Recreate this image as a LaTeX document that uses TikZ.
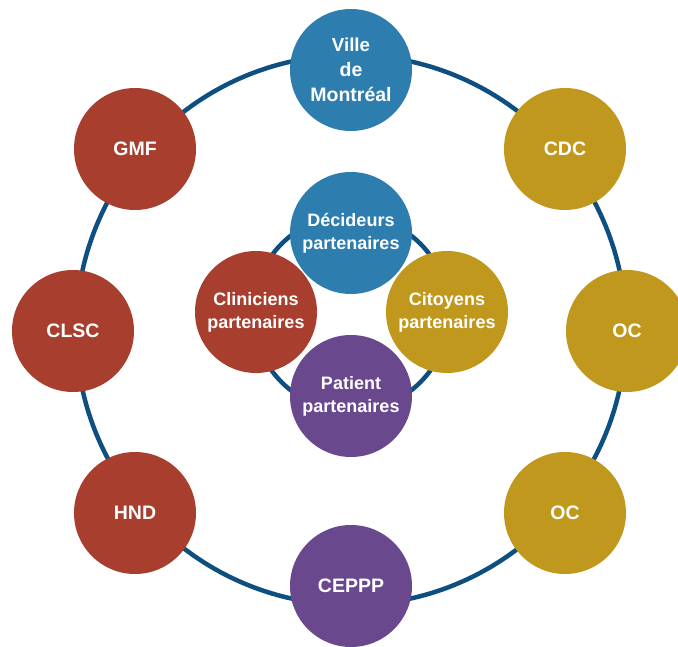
\documentclass[tikz,border=0pt]{standalone}
\usepackage{fontspec}
\setmainfont{Liberation Sans}
\usepackage{tikz}
\definecolor{ringblue}{RGB}{13,79,128}
\definecolor{cityblue}{RGB}{46,125,175}
\definecolor{clinred}{RGB}{168,62,46}
\definecolor{commgold}{RGB}{193,152,30}
\definecolor{patpurple}{RGB}{106,72,142}
\tikzset{
  partner/.style  = {circle, minimum size=122pt, inner sep=0pt, text=white,
                     align=center, font=\bfseries\fontsize{19.5}{24.7}\selectfont},
  inner/.style    = {partner, font=\bfseries\fontsize{18}{22.7}\selectfont},
  ring/.style     = {draw=ringblue, line width=4.5pt}
}

\begin{document}
\begin{tikzpicture}[x=1pt,y=1pt]
    \useasboundingbox (0,0) rectangle (678,646);

    % outer ring of organisations
    \coordinate (outerc) at (351,316);
    \draw[ring] (outerc) circle[radius=275pt];

    \node[partner, fill=cityblue]  (ville) at (351,576)
      {\fontsize{18.7}{24.7}\selectfont Ville\\de\\Montréal};
    \node[partner, fill=clinred]   (gmf)   at (135,497) {GMF};
    \node[partner, fill=commgold]  (cdc)   at (565,497) {CDC};
    \node[partner, fill=clinred]   (clsc)  at (73,315)  {CLSC};
    \node[partner, fill=commgold]  (oca)   at (627,315) {OC};
    \node[partner, fill=clinred]   (hnd)   at (135,133) {HND};
    \node[partner, fill=commgold]  (ocb)   at (565,133) {OC};
    \node[partner, fill=patpurple] (ceppp) at (351,60)  {CEPPP};

    % inner ring of partners
    \coordinate (innerc) at (351,333);
    \draw[ring] (innerc) circle[radius=98pt];

    \node[inner, fill=clinred]   (clin) at (256,334) {Cliniciens\\partenaires};
    \node[inner, fill=cityblue]  (deci) at (351,413) {Décideurs\\partenaires};
    \node[inner, fill=patpurple] (pat)  at (351,250) {Patient\\partenaires};
    \node[inner, fill=commgold]  (cito) at (447,334) {Citoyens\\partenaires};
  \end{tikzpicture}
\end{document}
